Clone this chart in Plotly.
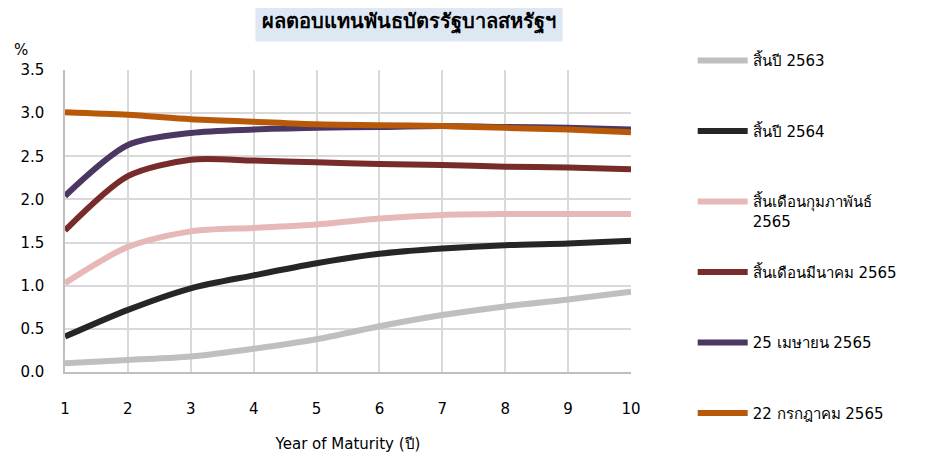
import plotly.graph_objects as go

maturity = [1, 2, 3, 4, 5, 6, 7, 8, 9, 10]
series_names = [
    "สิ้นปี 2563",
    "สิ้นปี 2564",
    "สิ้นเดือนกุมภาพันธ์<br>2565",
    "สิ้นเดือนมีนาคม 2565",
    "25 เมษายน 2565",
    "22 กรกฎาคม 2565",
]
y_2563 = [0.10, 0.14, 0.18, 0.27, 0.38, 0.53, 0.66, 0.76, 0.84, 0.93]
y_2564 = [0.41, 0.72, 0.97, 1.12, 1.26, 1.37, 1.43, 1.47, 1.49, 1.52]
y_feb65 = [1.03, 1.45, 1.63, 1.67, 1.71, 1.78, 1.82, 1.83, 1.83, 1.83]
y_mar65 = [1.64, 2.27, 2.46, 2.45, 2.43, 2.41, 2.40, 2.38, 2.37, 2.35]
y_apr65 = [2.04, 2.63, 2.77, 2.81, 2.83, 2.84, 2.85, 2.84, 2.83, 2.81]
y_jul65 = [3.01, 2.98, 2.93, 2.90, 2.87, 2.86, 2.85, 2.83, 2.81, 2.78]
y_ticks = [0.0, 0.5, 1.0, 1.5, 2.0, 2.5, 3.0, 3.5]

series_values = [y_2563, y_2564, y_feb65, y_mar65, y_apr65, y_jul65]
colors = ["#bfbfbf", "#262626", "#e6b9b8", "#772b2a", "#4b3862", "#b8590a"]
legend_ids = ["legend", "legend", "legend", "legend2", "legend2", "legend2"]

FONT = "Tahoma, DejaVu Sans, sans-serif"

fig = go.Figure()
for name, vals, col, lg in zip(series_names, series_values, colors, legend_ids):
    fig.add_trace(go.Scatter(
        x=maturity, y=vals, name=name, mode="lines",
        line=dict(color=col, width=6, shape="spline", smoothing=0.8),
        legend=lg, legendgroup=name,
    ))

legend_common = dict(
    xanchor="left", yanchor="top", orientation="v",
    font=dict(family=FONT, size=15, color="#000000"),
    tracegroupgap=48, valign="top", itemwidth=50,
    bgcolor="rgba(0,0,0,0)",
)

fig.update_layout(
    width=935, height=458,
    margin=dict(l=57, r=312, t=62, b=94, autoexpand=False),
    paper_bgcolor="white", plot_bgcolor="white",
    font=dict(family=FONT, size=15, color="#000000"),
    showlegend=True,
    legend=dict(x=1.109, y=1.085, **legend_common),
    legend2=dict(x=1.109, y=0.385, **legend_common),
    xaxis=dict(
        range=[1, 10], tickvals=maturity, ticktext=[str(m) for m in maturity],
        showgrid=True, gridcolor="#d9d9d9", gridwidth=1.5,
        showline=True, linecolor="#bfbfbf", linewidth=1.5,
        ticks="", ticklabelstandoff=22, zeroline=False, automargin=False,
        title=dict(text="Year of Maturity (ปี)", standoff=22,
                   font=dict(family=FONT, size=15)),
        tickfont=dict(family=FONT, size=15),
    ),
    yaxis=dict(
        range=[0, 3.5], tickvals=y_ticks, tickformat=".1f",
        showgrid=True, gridcolor="#d9d9d9", gridwidth=1.5,
        showline=True, linecolor="#bfbfbf", linewidth=1.5,
        ticks="", ticklabelstandoff=16, zeroline=False, automargin=False,
        tickfont=dict(family=FONT, size=15),
    ),
    annotations=[
        dict(text="<b>ผลตอบแทนพันธบัตรรัฐบาลสหรัฐฯ</b>", xref="paper", yref="paper",
             x=(409 - 65) / 566, y=1.0 + 48 / 302,
             xanchor="center", yanchor="middle", showarrow=False,
             bgcolor="#dde8f4", borderpad=6,
             font=dict(family=FONT, size=20, color="#000000")),
        dict(text="%", xref="paper", yref="paper",
             x=-53 / 566, y=1.0 + 20 / 302, xanchor="left", yanchor="middle",
             showarrow=False, font=dict(family=FONT, size=15, color="#000000")),
    ],
)

fig.write_html("out.html")
